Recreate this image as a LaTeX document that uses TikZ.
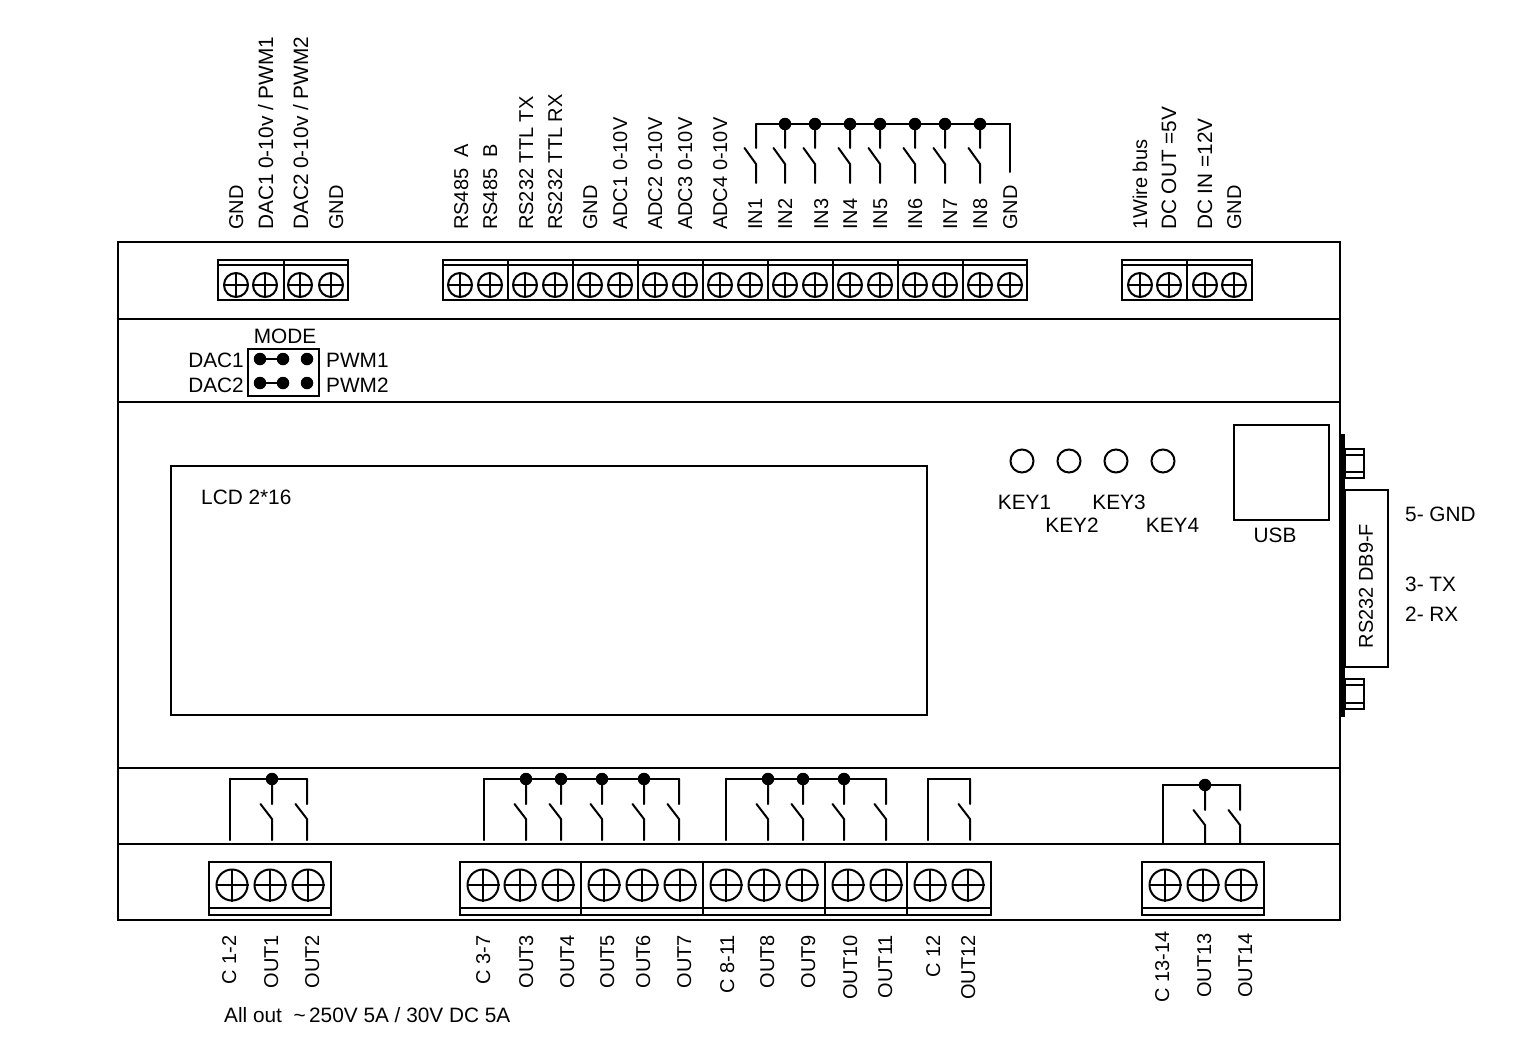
\documentclass[tikz,border=0pt]{standalone}
\usepackage{fontspec}
\setmainfont{Liberation Sans}
\tikzset{
  wire/.style={line width=2pt,line cap=round},
  frame/.style={draw,line width=2pt},
  dot/.style={circle,fill=black,draw=none,minimum size=12.5pt,inner sep=0pt},
  led/.style={circle,draw,line width=2pt,minimum size=23pt,inner sep=0pt},
  txt/.style={font=\fontsize{20.8}{24}\selectfont,inner sep=0pt},
  vtxt/.style={font=\fontsize{20}{24}\selectfont,inner sep=0pt},
  uplabel/.style={vtxt,rotate=90,anchor=base west},
  biglabel/.style={txt,rotate=90,anchor=base west},
  downlabel/.style={vtxt,rotate=90,anchor=base east},
}
\newcommand{\screw}[4]{% x y diameter name
  \node[circle,draw,line width=2pt,minimum size=#3pt,inner sep=0pt] (#4) at (#1,#2) {};
  \draw[wire,line cap=butt] (#4.north) -- (#4.south) (#4.west) -- (#4.east);}
\newcommand{\topblock}[3]{% x0 x1 separators
  \draw[frame] (#1,260) rectangle (#2,300);
  \draw[wire,line cap=butt] (#1,265) -- (#2,265);
  \foreach \s in {#3} \draw[wire,line cap=butt] (\s,260) -- (\s,300);}
\newcommand{\botblock}[3]{%
  \draw[frame] (#1,862) rectangle (#2,915);
  \draw[wire,line cap=butt] (#1,908) -- (#2,908);
  \foreach \s in {#3} \draw[wire,line cap=butt] (\s,862) -- (\s,915);}
\newcommand{\sw}[5]{% x, ybus, yopenTop, yopenBot, yend
  \coordinate (a) at (#1,#2);
  \coordinate (b) at (#1,#3);
  \coordinate (c) at (#1-11.5,#3);
  \coordinate (d) at (#1,#4);
  \coordinate (e) at (#1,#5);
  \draw[wire] (a) -- (b) (c) -- (d) -- (e);}
\begin{document}
\begin{tikzpicture}[x=1pt,y=-1pt]
\useasboundingbox (0,0) rectangle (1535,1063);
% case
\draw[frame] (118,242) rectangle (1340,920);
\foreach \y/\n in {319/l1,402/l2,768/l3,844/l4} {
  \coordinate (\n a) at (118,\y); \coordinate (\n b) at (1340,\y);
  \draw[wire,line cap=butt] (\n a) -- (\n b);}
% top terminals
\topblock{218}{348}{284}
\topblock{443}{1027}{508,573,638,703,768,833,898,963}
\topblock{1122}{1252}{1187}
\foreach \x [count=\i] in {236,265,300,331,460,490,525,555,590,620,655,685,720,750,785,815,850,880,915,945,980,1010,1140,1169,1205,1234}
  {\screw{\x}{285}{24}{ts\i}}
% bottom terminals
\botblock{209}{331}{}
\botblock{460}{991}{581,703,825,907}
\botblock{1142}{1264}{}
\foreach \x [count=\i] in {232,270,308,483,520,558,604,642,680,726,764,802,848,886,930,968,1165,1203,1241}
  {\screw{\x}{885}{31}{bs\i}}
% top labels
\foreach \x/\t in {236/GND,336/GND,461/RS485\ \ A,490/RS485\ \ B,526/RS232 TTL TX,555/RS232 TTL RX,590/GND,620/ADC1 0-10V,655/ADC2 0-10V,685/ADC3 0-10V,720/ADC4 0-10V,755/IN1,785/IN2,821/IN3,850/IN4,880/IN5,915/IN6,950/IN7,980/IN8,1010/GND,1140/1Wire bus,1234/GND}
  {\node[uplabel] at (\x+7,230) {\t};}
\foreach \x/\t in {266/{DAC1 0-10v / PWM1},301/{DAC2 0-10v / PWM2},1169/DC OUT =5V,1205/DC IN =12V}
  {\node[biglabel] at (\x+7,230) {\t};}
% bottom labels
\foreach \x/\y/\t in {229/935/C 1-2,271/935/OUT1,312/935/OUT2,483/935/C 3-7,526/935/OUT3,567/935/OUT4,607/935/OUT5,643/935/OUT6,684/935/OUT7,727/935/C 8-11,767/935/OUT8,808/935/OUT9,850/935/OUT10,885/935/OUT11,933/935/C 12,968/935/OUT12,1162/931/C 13-14,1204/933/OUT13,1245/933/OUT14}
  {\node[downlabel] at (\x+7,\y) {\t};}
% input switches
\coordinate (ibl) at (756,124); \coordinate (ibr) at (1010,124); \coordinate (ibe) at (1010,172);
\draw[wire] (ibl) -- (ibr) -- (ibe);
\foreach \x in {756,785,815,850,880,915,945,980} {\sw{\x}{124}{148}{164}{183}}
\foreach \x in {785,815,850,880,915,945,980} {\node[dot] at (\x,124) {};}
% relay groups
\foreach \l/\r/\yb/\ye/\sl/\dl in {230/307/779/840/{272,307}/{272},484/679/779/840/{526,561,602,644,679}/{526,561,602,644},726/886/779/840/{768,803,844,886}/{768,803,844},928/970/779/840/{970}/{},1163/1240/785/843/{1205,1240}/{1205}} {
  \coordinate (gl) at (\l,\yb); \coordinate (gr) at (\r,\yb); \coordinate (ge) at (\l,\ye);
  \draw[wire] (ge) -- (gl) -- (gr);
  \foreach \x in \sl {\sw{\x}{\yb}{\yb+25}{\yb+40}{\ye}}
  \foreach \x in \dl {\node[dot] at (\x,\yb) {};}
}
% jumper
\draw[frame] (248,349) rectangle (319,396);
\foreach \y/\n in {359/j,383/k} {
  \node[dot] (\n1) at (260,\y) {};
  \node[dot] (\n2) at (283,\y) {};
  \node[dot] (\n3) at (307,\y) {};
  \draw[wire] (\n1) -- (\n2);}
\node[txt] at (285,336.5) {MODE};
\node[txt,anchor=east] at (244,360.5) {DAC1};
\node[txt,anchor=east] at (244,385.5) {DAC2};
\node[txt,anchor=west] at (326,360.5) {PWM1};
\node[txt,anchor=west] at (326,385.5) {PWM2};
% LCD
\draw[frame] (171,466) rectangle (927,715);
\node[txt,anchor=west] at (201,497.5) {LCD 2*16};
% keys
\foreach \x in {1022,1069,1116,1163} {\node[led] at (\x,461) {};}
\node[txt] at (1024.5,502.5) {KEY1};
\node[txt] at (1072,525.5) {KEY2};
\node[txt] at (1119,502.5) {KEY3};
\node[txt] at (1172.5,525.5) {KEY4};
% USB
\draw[frame] (1234,425) rectangle (1329,520);
\node[txt] at (1275,535.5) {USB};
% DB9
\fill (1340,434) rectangle (1345,717);
\draw[frame] (1345,490) rectangle (1388,667);
\draw[frame] (1345,449) rectangle (1364,478);
\draw[wire,line cap=butt] (1345,455) -- (1364,455) (1345,472) -- (1364,472);
\draw[frame] (1345,679) rectangle (1364,709);
\draw[wire,line cap=butt] (1345,685) -- (1364,685) (1345,703) -- (1364,703);
\node[vtxt,rotate=90] at (1366,586) {RS232 DB9-F};
\node[txt,anchor=west] at (1405,514.5) {5- GND};
\node[txt,anchor=west] at (1405,584.5) {3- TX};
\node[txt,anchor=west] at (1405,614.5) {2- RX};
\node[txt,anchor=west] at (224,1015.5) {All out\ \ \textasciitilde\,250V 5A / 30V DC 5A};
\end{tikzpicture}
\end{document}
